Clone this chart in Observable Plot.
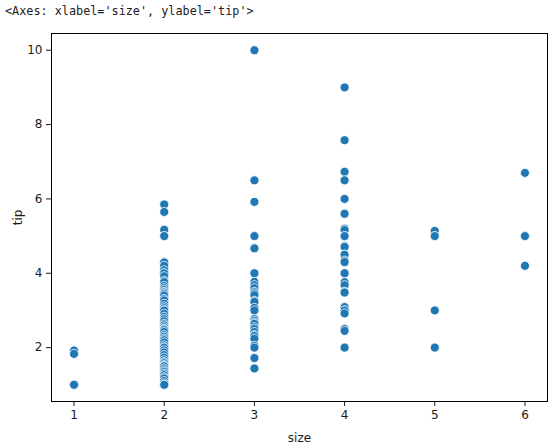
<!DOCTYPE html>
<html>
<head>
<meta charset="utf-8">
<script src="https://cdn.jsdelivr.net/npm/d3@7"></script>
<script src="https://cdn.jsdelivr.net/npm/@observablehq/plot@0.6"></script>
<style>
  html, body { margin: 0; padding: 0; background: #fff; }
  #title { font-family: "DejaVu Sans Mono", monospace; font-size: 11.8px; color: #222; height: 22px; line-height: 22px; padding-left: 5px; white-space: pre; }
  svg { display: block; }
</style>
</head>
<body>
<div id="title">&lt;Axes: xlabel='size', ylabel='tip'&gt;</div>
<div id="chart"></div>
<script>
const xTicks = [1, 2, 3, 4, 5, 6];
const yTicks = [2, 4, 6, 8, 10];
const tipsSize1 = [1.92, 1.83, 1.0, 1.0];
const tipsSize2 = [5.85, 5.65, 5.17, 5.0, 5.0, 4.3, 4.29, 4.2, 4.08, 4.0, 4.0, 3.92, 3.8, 3.76, 3.66, 3.6, 3.55, 3.5, 3.48, 3.44, 3.4, 3.31, 3.27, 3.18, 3.11, 3.06, 3.0, 3.0, 3.0, 2.91, 2.83, 2.77, 2.71, 2.64, 2.6, 2.55, 2.5, 2.5, 2.47, 2.42, 2.34, 2.29, 2.24, 2.2, 2.14, 2.06, 2.0, 2.0, 2.0, 1.93, 1.87, 1.8, 1.73, 1.66, 1.61, 1.58, 1.53, 1.5, 1.5, 1.44, 1.39, 1.35, 1.3, 1.26, 1.2, 1.17, 1.1, 1.04, 1.0, 1.0];
const tipsSize3 = [10.0, 6.5, 5.92, 5.0, 4.67, 4.0, 3.77, 3.68, 3.6, 3.5, 3.46, 3.41, 3.26, 3.23, 3.07, 3.0, 2.77, 2.72, 2.67, 2.64, 2.55, 2.5, 2.42, 2.34, 2.31, 2.24, 2.05, 2.0, 1.72, 1.44];
const tipsSize4 = [9.0, 7.58, 6.73, 6.5, 6.0, 5.6, 5.2, 5.16, 5.0, 5.0, 4.73, 4.71, 4.5, 4.5, 4.34, 4.3, 4.0, 4.0, 3.76, 3.68, 3.5, 3.5, 3.48, 3.09, 3.0, 3.0, 2.92, 2.5, 2.45, 2.0, 2.0];
const tipsSize5 = [5.14, 5.0, 5.0, 3.0, 2.0];
const tipsSize6 = [6.7, 5.0, 5.0, 4.2];

const groups = [[1, tipsSize1], [2, tipsSize2], [3, tipsSize3], [4, tipsSize4], [5, tipsSize5], [6, tipsSize6]];
const data = groups.flatMap(([size, tips]) => tips.map(tip => ({size, tip})));

const plot = Plot.plot({
  width: 555,
  height: 423,
  marginTop: 11,
  marginBottom: 44,
  marginLeft: 51,
  marginRight: 8,
  style: { fontFamily: "DejaVu Sans, sans-serif", fontSize: "12px", color: "#1a1a1a", background: "#fff" },
  x: { domain: [0.75, 6.25], ticks: xTicks, tickFormat: d => String(d), label: "size", labelAnchor: "center", labelArrow: "none", labelOffset: 40, tickSize: 5, tickPadding: 4 },
  y: { domain: [0.55, 10.45], ticks: yTicks, tickFormat: d => String(d), label: "tip", labelAnchor: "center", labelArrow: "none", labelOffset: 38, tickSize: 5, tickPadding: 4 },
  marks: [
    Plot.frame({ stroke: "#000", strokeWidth: 1 }),
    Plot.dot(data, { x: "size", y: "tip", r: 4.5, fill: "#1f77b4", stroke: "#fff", strokeWidth: 0.75, fillOpacity: 1 })
  ]
});
document.getElementById("chart").appendChild(plot);
</script>
</body>
</html>
